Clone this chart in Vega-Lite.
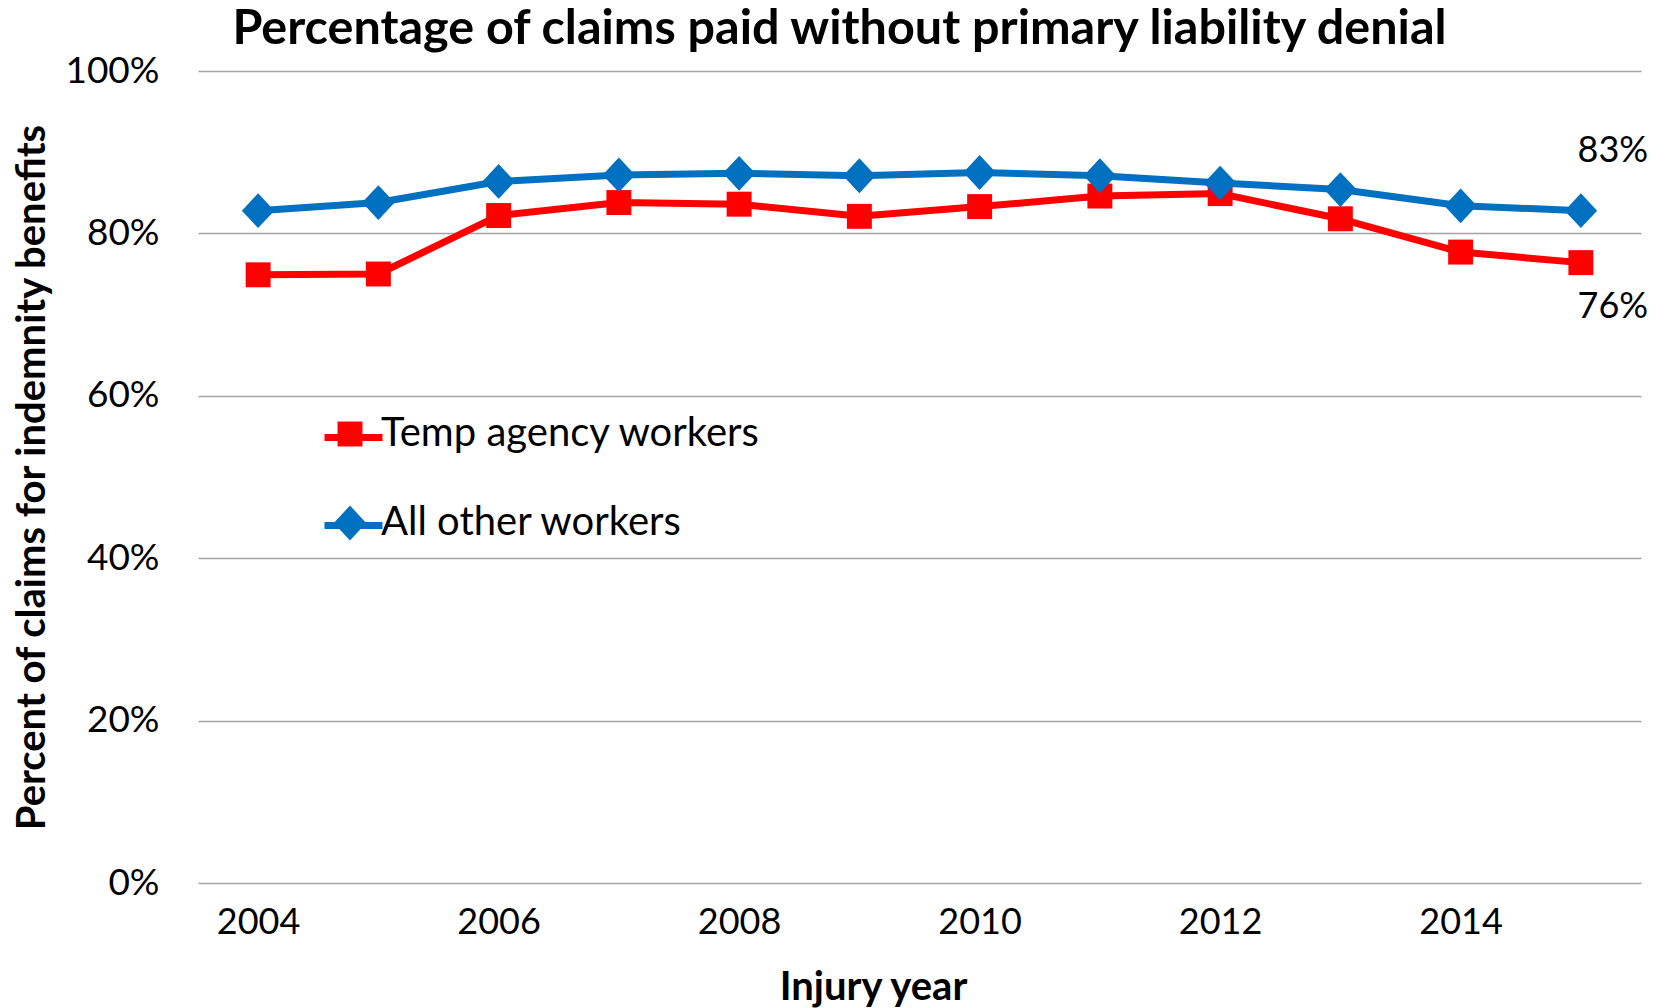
{
  "$schema": "https://vega.github.io/schema/vega-lite/v6.json",
  "width": 1443,
  "height": 812,
  "autosize": {"type": "none"},
  "padding": {"left": 198, "top": 71, "right": 22, "bottom": 125},
  "background": "white",
  "config": {
    "font": "Lato",
    "view": {"stroke": null},
    "axis": {"labelColor": "#000000", "titleColor": "#000000", "labelFont": "Lato", "titleFont": "Lato"}
  },
  "title": {
    "text": "Percentage of claims paid without primary liability denial",
    "font": "Lato",
    "fontSize": 48.5,
    "fontWeight": "bold",
    "color": "#000000",
    "anchor": "middle",
    "dx": -80,
    "dy": 51,
    "baseline": "alphabetic",
    "offset": 11
  },
  "data": {
    "values": [
      {"year": 2004, "series": "Temp agency workers", "pct": 0.749},
      {"year": 2005, "series": "Temp agency workers", "pct": 0.750},
      {"year": 2006, "series": "Temp agency workers", "pct": 0.822},
      {"year": 2007, "series": "Temp agency workers", "pct": 0.838},
      {"year": 2008, "series": "Temp agency workers", "pct": 0.836},
      {"year": 2009, "series": "Temp agency workers", "pct": 0.821},
      {"year": 2010, "series": "Temp agency workers", "pct": 0.833},
      {"year": 2011, "series": "Temp agency workers", "pct": 0.846},
      {"year": 2012, "series": "Temp agency workers", "pct": 0.849},
      {"year": 2013, "series": "Temp agency workers", "pct": 0.818},
      {"year": 2014, "series": "Temp agency workers", "pct": 0.777},
      {"year": 2015, "series": "Temp agency workers", "pct": 0.764},
      {"year": 2004, "series": "All other workers", "pct": 0.828},
      {"year": 2005, "series": "All other workers", "pct": 0.838},
      {"year": 2006, "series": "All other workers", "pct": 0.864},
      {"year": 2007, "series": "All other workers", "pct": 0.872},
      {"year": 2008, "series": "All other workers", "pct": 0.874},
      {"year": 2009, "series": "All other workers", "pct": 0.871},
      {"year": 2010, "series": "All other workers", "pct": 0.875},
      {"year": 2011, "series": "All other workers", "pct": 0.871},
      {"year": 2012, "series": "All other workers", "pct": 0.862},
      {"year": 2013, "series": "All other workers", "pct": 0.854},
      {"year": 2014, "series": "All other workers", "pct": 0.834},
      {"year": 2015, "series": "All other workers", "pct": 0.828}
    ]
  },
  "encoding": {
    "x": {
      "field": "year",
      "type": "quantitative",
      "scale": {"domain": [2003.5, 2015.5], "nice": false, "zero": false},
      "axis": {
        "title": "Injury year",
        "values": [2004, 2006, 2008, 2010, 2012, 2014],
        "format": "d",
        "grid": false,
        "domain": false,
        "ticks": false,
        "labelFontSize": 36,
        "labelPadding": 22,
        "titleFontSize": 40,
        "titleFontWeight": "bold",
        "titleX": 675,
        "titleY": 104,
        "titleBaseline": "middle"
      }
    },
    "y": {
      "field": "pct",
      "type": "quantitative",
      "scale": {"domain": [0, 1], "nice": false},
      "axis": {
        "title": "Percent of claims for indemnity benefits",
        "values": [0, 0.2, 0.4, 0.6, 0.8, 1],
        "format": ".0%",
        "grid": true,
        "gridColor": "#A3A3A3",
        "gridWidth": 1.4,
        "domain": false,
        "ticks": false,
        "labelFontSize": 37,
        "labelPadding": 39,
        "titleFontSize": 40,
        "titleFontWeight": "bold",
        "titleX": -166,
        "titleY": 406,
        "titleBaseline": "middle",
        "titleAngle": -90
      }
    }
  },
  "layer": [
    {
      "mark": {"type": "line", "strokeWidth": 7, "strokeJoin": "round", "strokeCap": "round"},
      "encoding": {
        "stroke": {
          "field": "series",
          "type": "nominal",
          "scale": {"domain": ["All other workers", "Temp agency workers"], "range": ["#0070C0", "#FF0000"]},
          "legend": {
            "orient": "none",
            "legendX": 123,
            "legendY": 334,
            "title": null,
            "padding": 0,
            "values": ["Temp agency workers", "All other workers"],
            "symbolType": "stroke",
            "symbolSize": 3364,
            "symbolStrokeWidth": 7,
            "rowPadding": 35,
            "labelOffset": 2,
            "labelFontSize": 40,
            "labelExpr": "''",
            "labelLimit": 800
          }
        }
      }
    },
    {
      "mark": {"type": "point", "filled": true, "opacity": 1, "size": 3364, "strokeWidth": 0},
      "encoding": {
        "fill": {
          "field": "series",
          "type": "nominal",
          "scale": {"domain": ["Temp agency workers", "All other workers"], "range": ["#FF0000", "#0070C0"]},
          "legend": {
            "orient": "none",
            "legendX": 123,
            "legendY": 334,
            "title": null,
            "padding": 0,
            "symbolSize": 3364,
            "symbolStrokeWidth": 0,
            "symbolOpacity": 1,
            "rowPadding": 40,
            "labelOffset": 2,
            "labelFontSize": 40,
            "labelColor": "#000000",
            "labelFont": "Lato",
            "labelLimit": 800
          }
        },
        "shape": {
          "field": "series",
          "type": "nominal",
          "scale": {
            "domain": ["Temp agency workers", "All other workers"],
            "range": ["M-0.43,-0.43H0.43V0.43H-0.43Z", "M0,-0.6L0.56,0L0,0.6L-0.56,0Z"]
          }
        }
      }
    },
    {
      "transform": [{"filter": "datum.series === 'All other workers' && datum.year === 2015"}],
      "mark": {"type": "text", "fontSize": 36, "dx": 32, "dy": -60, "align": "center", "baseline": "middle", "color": "#000000"},
      "encoding": {
        "text": {"field": "pct", "type": "quantitative", "format": ".0%"}
      }
    },
    {
      "transform": [{"filter": "datum.series === 'Temp agency workers' && datum.year === 2015"}],
      "mark": {"type": "text", "fontSize": 36, "dx": 32, "dy": 44, "align": "center", "baseline": "middle", "color": "#000000"},
      "encoding": {
        "text": {"field": "pct", "type": "quantitative", "format": ".0%"}
      }
    }
  ]
}
